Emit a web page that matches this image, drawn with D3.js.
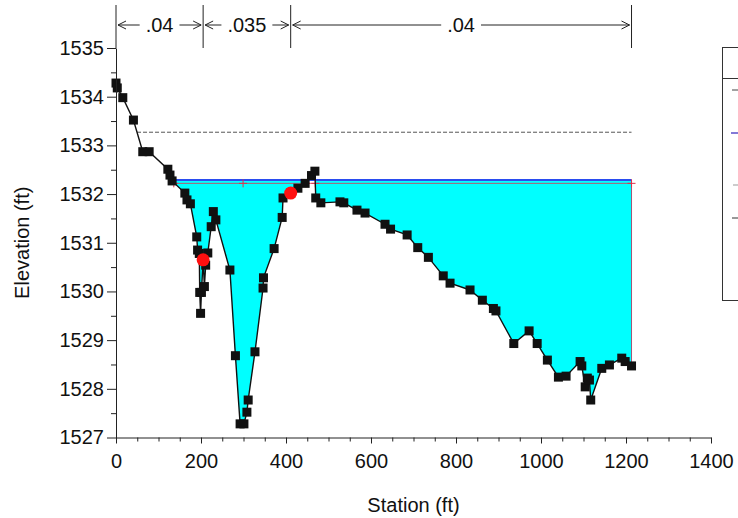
<!DOCTYPE html>
<html><head><meta charset="utf-8">
<script src="https://cdn.jsdelivr.net/npm/d3@7/dist/d3.min.js"></script>
<style>body{margin:0;background:#fff;overflow:hidden}svg{display:block}text{font-family:"Liberation Sans",Arial,sans-serif;fill:#111}</style>
</head><body><svg id="c" width="738" height="518"></svg>
<script>
// ---- data ----
const stations = [0,3,16,41,63,78,122,127,132,162,167,175,190,192,196,197,199,201,205,208,211,216,224,229,235,268,281,292,301,308,311,327,346,347,372,391,393,411,428,445,460,468,470,482,527,536,567,586,633,646,685,710,735,770,786,833,862,888,894,936,972,991,1015,1041,1059,1092,1096,1104,1109,1114,1117,1143,1161,1190,1198,1213];
const elevations = [1534.28,1534.18,1533.98,1533.52,1532.87,1532.87,1532.51,1532.39,1532.27,1532.02,1531.88,1531.80,1531.12,1530.85,1530.78,1529.98,1529.55,1529.98,1530.65,1530.10,1530.54,1530.79,1531.33,1531.64,1531.47,1530.44,1528.68,1527.28,1527.28,1527.52,1527.77,1528.76,1530.07,1530.28,1530.88,1531.52,1531.92,1532.02,1532.12,1532.22,1532.38,1532.47,1531.92,1531.82,1531.84,1531.82,1531.67,1531.61,1531.38,1531.28,1531.16,1530.90,1530.70,1530.32,1530.17,1530.03,1529.82,1529.65,1529.60,1528.93,1529.19,1528.93,1528.59,1528.24,1528.26,1528.56,1528.47,1528.04,1528.22,1528.18,1527.77,1528.42,1528.49,1528.63,1528.56,1528.47];
const bankStations = [205, 411];
const nBreaks = [0, 205, 411, 1213];
const nLabels = [".04", ".035", ".04"];
const wsElev = 1532.29;     // WS PF 1
const egElev = 1533.27;     // EG PF 1
const critElev = 1532.22;   // Crit PF 1
const critMarks = [136, 299, 447, 469, 1213];
const xTicks = [0,200,400,600,800,1000,1200,1400];
const yTicks = [1527,1528,1529,1530,1531,1532,1533,1534,1535];

// ---- scales ----
const svg = d3.select("#c");
const x = d3.scaleLinear().domain([0,1400]).range([116,711]);
const y = d3.scaleLinear().domain([1527,1535]).range([437.5,48]);
const ground = stations.map((s,i)=>({s, e: elevations[i]}));
const lastS = stations[stations.length-1];

function firstCross(level){
  for(let i=1;i<ground.length;i++){
    const a=ground[i-1], b=ground[i];
    if((a.e-level)*(b.e-level)<=0 && a.e!==b.e){
      return a.s + (level-a.e)/(b.e-a.e)*(b.s-a.s);
    }
  }
  return ground[0].s;
}

// ---- water fill ----
const wet = [];
for(let i=0;i<ground.length;i++){
  if(i>0){
    const a=ground[i-1], b=ground[i];
    if((a.e-wsElev)*(b.e-wsElev)<0){
      wet.push({s: a.s+(wsElev-a.e)/(b.e-a.e)*(b.s-a.s), e: wsElev, w:true});
    }
  }
  wet.push({s: ground[i].s, e: Math.min(ground[i].e, wsElev), w: ground[i].e<=wsElev});
}
const area = d3.area().defined(d=>d.w).x(d=>x(d.s)).y0(y(wsElev)).y1(d=>y(d.e));
svg.append("path").attr("d", area(wet)).attr("fill","#00ffff").attr("stroke","none");
// right edge of wetted section
svg.append("line").attr("x1",x(lastS)).attr("x2",x(lastS)).attr("y1",y(wsElev)).attr("y2",y(ground[ground.length-1].e)).attr("stroke","#a05878").attr("stroke-width",1);

// ---- EG line ----
svg.append("line").attr("x1",x(firstCross(egElev))).attr("x2",x(lastS)).attr("y1",y(egElev)).attr("y2",y(egElev))
  .attr("stroke","#555").attr("stroke-width",1).attr("stroke-dasharray","4,2");
// ---- WS line ----
svg.append("line").attr("x1",x(firstCross(wsElev))).attr("x2",x(lastS)).attr("y1",y(wsElev)).attr("y2",y(wsElev))
  .attr("stroke","#2a4cf0").attr("stroke-width",2);
// ---- Crit line ----
svg.append("line").attr("x1",x(firstCross(critElev))).attr("x2",x(lastS)).attr("y1",y(critElev)).attr("y2",y(critElev))
  .attr("stroke","#e0304a").attr("stroke-width",0.8);
const cm = svg.append("g");
critMarks.forEach(s=>{
  cm.append("path").attr("d",`M${x(s)-4},${y(critElev)}h8M${x(s)},${y(critElev)-4}v8`).attr("stroke","#e0304a").attr("stroke-width",1);
});

// ---- ground ----
const line = d3.line().x(d=>x(d.s)).y(d=>y(d.e));
svg.append("path").attr("d",line(ground)).attr("fill","none").attr("stroke","#111").attr("stroke-width",1.4);
svg.append("g").selectAll("rect").data(ground).join("rect")
  .attr("x",d=>x(d.s)-4.5).attr("y",d=>y(d.e)-4.5).attr("width",9).attr("height",9).attr("fill","#111");
// bank stations
svg.append("g").selectAll("circle").data(bankStations).join("circle")
  .attr("cx",d=>x(d)).attr("cy",d=>{const g=ground.find(p=>p.s===d);return y(g.e);}).attr("r",6.5).attr("fill","#ff1010");

// ---- axes ----
const fs = "20px";
svg.append("g").attr("transform",`translate(${x(0)},0)`)
  .call(d3.axisLeft(y).tickValues(yTicks).tickFormat(d3.format("d")).tickSize(9).tickSizeOuter(0).tickPadding(3));
const yMinor = d3.range(1527.5,1535,1);
svg.append("g").attr("transform",`translate(${x(0)},0)`).call(d3.axisLeft(y).tickValues(yMinor).tickFormat("").tickSize(5).tickSizeOuter(0)).select(".domain").remove();
svg.append("g").attr("transform",`translate(0,${y(1527)})`)
  .call(d3.axisBottom(x).tickValues(xTicks).tickFormat(d3.format("d")).tickSize(6).tickSizeOuter(0).tickPadding(10));
const xMinor = d3.range(0,1401,50).filter(v=>v%200!==0);
svg.append("g").attr("transform",`translate(0,${y(1527)})`).call(d3.axisBottom(x).tickValues(xMinor).tickFormat("").tickSize(4).tickSizeOuter(0)).select(".domain").remove();
svg.selectAll(".tick text").style("font-size",fs).attr("fill","#111");
svg.selectAll(".domain, .tick line").attr("stroke","#222");

svg.append("text").attr("x",x(700)).attr("y",512).attr("text-anchor","middle").style("font-size",fs).text("Station (ft)");
svg.append("text").attr("transform",`translate(29,${y(1531)}) rotate(-90)`).attr("text-anchor","middle").style("font-size",fs).text("Elevation (ft)");

// ---- Manning's n bar ----
const nb = svg.append("g");
const nbY = 25, nTop = 5, nBot = 48;
nBreaks.forEach(s=>{
  nb.append("line").attr("x1",x(s)).attr("x2",x(s)).attr("y1",nTop).attr("y2",nBot).attr("stroke","#222").attr("stroke-width",1);
});
nLabels.forEach((lab,i)=>{
  const x0 = x(nBreaks[i]), x1 = x(nBreaks[i+1]), xm=(x0+x1)/2;
  const t = nb.append("text").attr("x",xm).attr("y",nbY+7).attr("text-anchor","middle").style("font-size",fs).text(lab);
  const w = t.node().getComputedTextLength();
  nb.append("line").attr("x1",x0+2).attr("x2",xm-w/2-6).attr("y1",nbY).attr("y2",nbY).attr("stroke","#222");
  nb.append("line").attr("x1",xm+w/2+6).attr("x2",x1-2).attr("y1",nbY).attr("y2",nbY).attr("stroke","#222");
  nb.append("path").attr("d",`M${x0+10},${nbY-4}L${x0+2},${nbY}L${x0+10},${nbY+4}`).attr("fill","none").attr("stroke","#222");
  nb.append("path").attr("d",`M${x1-10},${nbY-4}L${x1-2},${nbY}L${x1-10},${nbY+4}`).attr("fill","none").attr("stroke","#222");
});

// ---- legend (clipped by window) ----
const lg = svg.append("g");
lg.append("rect").attr("x",722.5).attr("y",47.5).attr("width",60).attr("height",253).attr("fill","#fff").attr("stroke","#333");
lg.append("line").attr("x1",722.5).attr("x2",782).attr("y1",78.5).attr("y2",78.5).attr("stroke","#333");
lg.append("line").attr("x1",732).attr("x2",740).attr("y1",90).attr("y2",90).attr("stroke","#444");
lg.append("line").attr("x1",731).attr("x2",740).attr("y1",133).attr("y2",133).attr("stroke","#5a4cc8").attr("stroke-width",1.5);
lg.append("line").attr("x1",733).attr("x2",740).attr("y1",185).attr("y2",185).attr("stroke","#999");
lg.append("line").attr("x1",732).attr("x2",740).attr("y1",218).attr("y2",218).attr("stroke","#333");
</script></body></html>
